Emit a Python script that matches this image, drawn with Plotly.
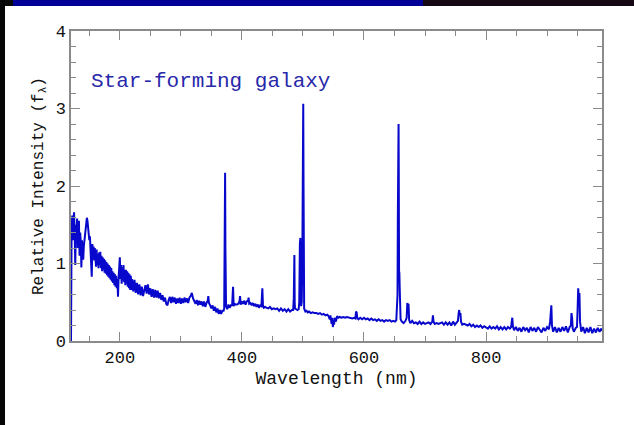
import plotly.graph_objects as go

# ---------------- data ----------------
wl_a = [120, 120.5, 121, 122, 123, 124, 125, 126, 127, 128, 129, 130, 131, 132, 133, 134, 135, 136, 137, 138,
        139, 140, 141, 142, 143, 144, 145, 146, 147, 148, 149, 150, 151, 152, 153, 154, 155, 156, 157, 158, 159, 160]
fl_a = [0.00, 1.25, 1.45, 1.62, 1.30, 1.55, 1.66, 1.40, 0.98, 1.50, 1.35, 1.58, 1.20, 1.45, 1.55, 1.10, 1.40, 1.28, 0.95, 1.30,
        1.15, 1.05, 1.22, 1.30, 1.38, 1.45, 1.52, 1.59, 1.55, 1.48, 1.40, 1.30, 1.35, 1.22, 1.10, 0.83, 1.25, 1.10, 1.22, 1.04, 1.20, 1.08]

wl_b = [161, 162, 163, 164, 165, 166, 167, 168, 169, 170, 171, 172, 173, 174, 175, 176, 177, 178, 179, 180,
        181, 182, 183, 184, 185, 186, 187, 188, 189, 190, 191, 192, 193, 194, 195, 196, 197, 198, 199, 200,
        201, 202, 203, 204, 205, 206, 207, 208, 209, 210, 211, 212, 213, 214, 215, 216, 217, 218, 219, 220,
        222, 224, 226, 228, 230, 232, 234, 236, 238, 240]
fl_b = [0.96, 1.18, 0.98, 1.12, 0.94, 1.14, 0.98, 1.15, 0.94, 1.10, 0.90, 1.08, 0.92, 1.06, 0.88, 1.04, 0.87, 1.02, 0.85, 1.00,
        0.83, 0.98, 0.81, 0.96, 0.79, 0.94, 0.77, 0.90, 0.75, 0.88, 0.72, 0.86, 0.70, 0.84, 0.68, 0.80, 0.57, 0.82, 0.92, 1.08,
        0.80, 0.98, 0.74, 0.95, 0.78, 0.98, 0.76, 0.92, 0.72, 0.92, 0.74, 0.90, 0.70, 0.88, 0.68, 0.86, 0.66, 0.84, 0.66, 0.80,
        0.64, 0.79, 0.62, 0.75, 0.60, 0.73, 0.59, 0.70, 0.58, 0.68]

wl_c = [242, 244, 246, 248, 250, 252, 254, 256, 258, 260, 262, 264, 266, 268, 270, 272, 274, 276, 278, 280,
        282, 284, 286, 288, 290, 292, 294, 296, 298, 300, 302, 304, 306, 308, 310, 312, 314, 316, 318, 320,
        322, 324, 326, 328, 330, 332, 334, 336, 338, 340, 342, 344, 345, 346, 348, 350, 352, 354, 356, 358,
        360, 362, 364, 366, 368, 370]
fl_c = [0.72, 0.61, 0.73, 0.60, 0.68, 0.57, 0.67, 0.56, 0.66, 0.56, 0.65, 0.55, 0.62, 0.53, 0.59, 0.51, 0.56, 0.48, 0.46, 0.53,
        0.57, 0.49, 0.57, 0.50, 0.56, 0.48, 0.55, 0.49, 0.56, 0.48, 0.55, 0.49, 0.56, 0.50, 0.55, 0.49, 0.56, 0.58, 0.62, 0.55,
        0.52, 0.48, 0.53, 0.46, 0.52, 0.47, 0.51, 0.45, 0.51, 0.44, 0.49, 0.52, 0.58, 0.49, 0.46, 0.42, 0.46, 0.39, 0.44, 0.37,
        0.42, 0.35, 0.40, 0.35, 0.39, 0.39]

wl_d = [371, 371.5, 372, 372.5, 373, 373.5, 374, 376, 378, 380, 382, 384, 385.5, 386.5, 388, 390, 392, 394, 396, 397,
        398, 400, 402, 404, 406, 408, 410, 411, 412, 414, 416, 418, 420, 422, 424, 426, 428, 430, 432, 433.5,
        434.5, 436, 438, 440, 443, 446, 449, 452, 455, 458, 461, 464, 467, 470, 473, 476, 479, 482, 484, 485,
        485.5, 486, 486.5, 487, 489, 491, 493, 494, 495, 495.8, 496.5, 497, 498, 499, 499.5, 500, 500.5, 501, 501.5, 502,
        504, 506]
fl_d = [0.42, 1.00, 2.17, 2.17, 1.20, 0.55, 0.45, 0.41, 0.47, 0.43, 0.46, 0.46, 0.70, 0.45, 0.48, 0.47, 0.47, 0.48, 0.51, 0.58,
        0.47, 0.51, 0.48, 0.52, 0.47, 0.51, 0.52, 0.56, 0.48, 0.49, 0.46, 0.49, 0.45, 0.48, 0.44, 0.47, 0.43, 0.46, 0.45, 0.68,
        0.46, 0.43, 0.44, 0.43, 0.42, 0.44, 0.41, 0.42, 0.41, 0.42, 0.39, 0.42, 0.39, 0.41, 0.38, 0.41, 0.38, 0.40, 0.40, 0.55,
        1.11, 1.11, 0.50, 0.42, 0.41, 0.40, 0.41, 0.50, 1.25, 1.33, 0.90, 0.45, 0.50, 1.00, 2.00, 3.06, 3.06, 2.00, 0.60, 0.42,
        0.38, 0.39]

wl_e = [508, 510, 513, 516, 519, 522, 525, 528, 531, 534, 537, 540, 542, 544, 545, 547, 548, 549, 550, 551,
        552, 554, 556, 558, 560, 563, 566, 569, 572, 575, 578, 581, 584, 586, 587, 588, 589, 591, 594, 597,
        600, 603, 606, 609, 612, 615, 618, 621, 624, 627, 630, 633, 636, 639, 642, 645, 648, 651, 653, 654,
        655, 655.5, 656, 656.3, 656.7, 657, 657.5, 658, 658.5, 659, 660]
fl_e = [0.37, 0.38, 0.36, 0.37, 0.36, 0.36, 0.35, 0.36, 0.34, 0.35, 0.33, 0.34, 0.32, 0.28, 0.33, 0.22, 0.30, 0.18, 0.26, 0.21,
        0.30, 0.25, 0.32, 0.30, 0.31, 0.30, 0.31, 0.30, 0.31, 0.30, 0.30, 0.29, 0.30, 0.29, 0.38, 0.37, 0.30, 0.28, 0.30, 0.28,
        0.30, 0.28, 0.29, 0.27, 0.29, 0.27, 0.28, 0.26, 0.28, 0.26, 0.27, 0.25, 0.27, 0.26, 0.27, 0.25, 0.26, 0.25, 0.27, 0.45,
        0.60, 1.60, 2.35, 2.80, 2.80, 2.20, 0.90, 0.88, 0.70, 0.35, 0.28]

wl_f = [662, 665, 668, 670, 671, 672, 673, 674, 676, 679, 682, 685, 688, 691, 694, 697, 700, 703, 706, 709,
        712, 713, 714, 716, 719, 722, 725, 728, 731, 734, 737, 740, 743, 746, 749, 752, 754, 755, 756, 757,
        758, 759, 761, 764, 767, 770, 773, 776, 779, 782, 785, 788, 791, 794, 797, 800, 803, 806, 809, 812,
        815, 818, 821, 824, 827, 830, 833, 836, 839, 841, 842, 843, 844, 846, 849, 852, 855, 858, 861, 864,
        867, 870, 873, 876, 879, 882, 885, 888, 891, 894, 897, 900, 903, 905, 906, 907, 908, 910, 913, 916,
        919, 922, 925, 928, 931, 934, 937, 939, 940, 941, 942, 944, 947, 949, 950, 951, 952, 953, 954, 956,
        959, 962, 965, 968, 971, 974, 977, 980, 983, 986, 989, 990]
fl_f = [0.25, 0.23, 0.26, 0.30, 0.49, 0.46, 0.48, 0.27, 0.23, 0.26, 0.23, 0.24, 0.22, 0.25, 0.22, 0.24, 0.22, 0.23, 0.24, 0.22,
        0.25, 0.33, 0.25, 0.22, 0.23, 0.22, 0.23, 0.24, 0.21, 0.24, 0.21, 0.24, 0.20, 0.25, 0.21, 0.24, 0.26, 0.35, 0.40, 0.33,
        0.36, 0.25, 0.21, 0.22, 0.21, 0.20, 0.22, 0.19, 0.21, 0.18, 0.20, 0.18, 0.20, 0.17, 0.19, 0.18, 0.16, 0.19, 0.16, 0.18,
        0.16, 0.19, 0.15, 0.18, 0.15, 0.18, 0.15, 0.18, 0.16, 0.18, 0.28, 0.30, 0.19, 0.14, 0.18, 0.13, 0.17, 0.12, 0.18, 0.14,
        0.17, 0.11, 0.18, 0.13, 0.17, 0.12, 0.18, 0.14, 0.11, 0.17, 0.13, 0.18, 0.15, 0.25, 0.43, 0.46, 0.20, 0.12, 0.18, 0.11,
        0.17, 0.12, 0.18, 0.13, 0.19, 0.11, 0.18, 0.20, 0.36, 0.30, 0.16, 0.12, 0.17, 0.18, 0.40, 0.68, 0.55, 0.62, 0.25, 0.12,
        0.18, 0.10, 0.17, 0.11, 0.18, 0.10, 0.16, 0.11, 0.17, 0.12, 0.16, 0.13]

wavelength = wl_a + wl_b + wl_c + wl_d + wl_e + wl_f
intensity = fl_a + fl_b + fl_c + fl_d + fl_e + fl_f

x_ticks = [200, 400, 600, 800]
y_ticks = [0, 1, 2, 3, 4]

# ---------------- figure ----------------
W, H = 634, 425
L, R, T, B = 71, 32, 31, 84
pw, ph = W - L - R, H - T - B

def px(xp):
    return (xp - L) / pw

def py(yp):
    return (H - B - yp) / ph

MONO = "Liberation Mono"
AXC = "#8a8a8a"

fig = go.Figure()
fig.add_trace(go.Scatter(
    x=wavelength, y=intensity, mode="lines",
    line=dict(color="#0808cc", width=2.0), hoverinfo="skip", showlegend=False,
))

axis_common = dict(
    showgrid=False, zeroline=False, showline=True, linecolor=AXC, linewidth=1.5,
    mirror="allticks", ticks="inside", tickcolor=AXC, tickwidth=1.2,
    tickfont=dict(family=MONO, size=17, color="#111111"),
)

fig.update_xaxes(
    range=[120, 990], tickvals=x_ticks, ticklen=9,
    minor=dict(dtick=50, tick0=0, ticks="inside", ticklen=5, tickcolor=AXC, tickwidth=1.2),
    title=dict(text="Wavelength (nm)", font=dict(family=MONO, size=18, color="#111111"), standoff=4),
    **axis_common,
)
fig.update_yaxes(
    range=[0, 4], tickvals=y_ticks, ticklen=9,
    minor=dict(dtick=0.2, tick0=0, ticks="inside", ticklen=5, tickcolor=AXC, tickwidth=1.2),
    title=dict(text="Relative Intensity (f<sub>λ</sub>)", font=dict(family=MONO, size=16, color="#111111"), standoff=8),
    **axis_common,
)

fig.add_annotation(
    text="Star-forming galaxy", xref="paper", yref="paper",
    x=px(89), y=py(81), xanchor="left", yanchor="middle", showarrow=False,
    font=dict(family=MONO, size=21, color="#2828aa"),
)

# page decoration: top banner and left dark strip
shapes = [
    dict(type="rect", xref="paper", yref="paper", x0=px(0), x1=px(13), y0=py(6), y1=py(0),
         fillcolor="#0a0a0a", line=dict(width=0), layer="below"),
    dict(type="rect", xref="paper", yref="paper", x0=px(13), x1=px(423), y0=py(6), y1=py(0),
         fillcolor="#000099", line=dict(width=0), layer="below"),
    dict(type="rect", xref="paper", yref="paper", x0=px(423), x1=px(634), y0=py(6), y1=py(0),
         fillcolor="#160812", line=dict(width=0), layer="below"),
    dict(type="rect", xref="paper", yref="paper", x0=px(0), x1=px(5), y0=py(425), y1=py(0),
         fillcolor="#050505", line=dict(width=0), layer="below"),
]

fig.update_layout(
    width=W, height=H, margin=dict(l=L, r=R, t=T, b=B, autoexpand=False),
    paper_bgcolor="white", plot_bgcolor="white", shapes=shapes, showlegend=False,
)

fig.write_html("out.html")
